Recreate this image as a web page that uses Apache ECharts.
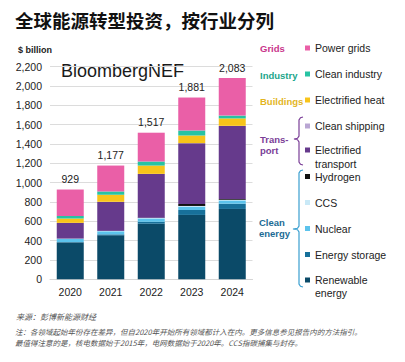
<!DOCTYPE html>
<html><head><meta charset="utf-8">
<script src="https://cdn.jsdelivr.net/npm/echarts@6/dist/echarts.min.js"></script>
<style>html,body{margin:0;padding:0;background:#fff}#c{width:405px;height:362px}</style>
</head><body><div id="c"></div>
<script>
const years = ['2020','2021','2022','2023','2024'];
const renewable = [381, 455, 575, 666, 728];
const storage = [5, 10, 20, 51, 54];
const nuclear = [33, 32, 35, 35, 34];
const ccs = [2, 3, 5, 7, 6];
const hydrogen = [0.5, 1, 3, 20, 8];
const evTransport = [162, 300, 452, 629, 757];
const shipping = [0.5, 1, 1, 1, 1];
const heat = [45, 73, 86, 79, 77];
const industry = [26, 34, 42, 52, 29];
const grids = [274, 268, 298, 341, 389];
const totals = [929, 1177, 1517, 1881, 2083];
const yTicks = [0, 200, 400, 600, 800, 1000, 1200, 1400, 1600, 1800, 2000, 2200];

const F = '"Liberation Sans", Arial, sans-serif';
const CJK = '"Noto Sans CJK SC", sans-serif';

const seriesDefs = [
  ['Renewable energy', renewable, '#0b4a68'],
  ['Energy storage', storage, '#17709a'],
  ['Nuclear', nuclear, '#5cc3ec'],
  ['CCS', ccs, '#c9e9f7'],
  ['Hydrogen', hydrogen, '#111111'],
  ['Electrified transport', evTransport, '#663a8c'],
  ['Clean shipping', shipping, '#b9a6d3'],
  ['Electrified heat', heat, '#f8c41a'],
  ['Clean industry', industry, '#27c3a3'],
  ['Power grids', grids, '#ea5fa7']
];

const series = seriesDefs.map(([name, data, color], i) => ({
  name, type: 'bar', stack: 'all', data, barWidth: 27,
  itemStyle: { color },
  emphasis: { disabled: true },
  label: i === seriesDefs.length - 1 ? {
    show: true, position: 'top', distance: 5,
    formatter: p => totals[p.dataIndex].toLocaleString('en-US'),
    fontFamily: F, fontSize: 10.5, color: '#222'
  } : { show: false }
}));

const legendPos = {
  'Power grids': 48, 'Clean industry': 74, 'Electrified heat': 100,
  'Clean shipping': 126, 'Electrified transport': 150, 'Hydrogen': 176.5,
  'CCS': 202.5, 'Nuclear': 228.5, 'Energy storage': 254.5, 'Renewable energy': 280
};
const legends = Object.keys(legendPos).map(n => ({
  data: [n], left: 305, top: legendPos[n] - 6, padding: 0,
  icon: 'rect', itemWidth: 5, itemHeight: 5, selectedMode: false,
  formatter: s => s === 'Electrified transport' ? 'Electrified' : (s === 'Renewable energy' ? 'Renewable' : s),
  textStyle: { fontFamily: F, fontSize: 10.5, lineHeight: 12, color: '#222' }
}));

function txt(x, y, s, color, size, weight, extra) {
  return Object.assign({ type: 'text', x, y, style: { text: s, fill: color, fontFamily: F, fontSize: size, fontWeight: weight || 'normal', verticalAlign: 'middle' } }, extra || {});
}
function bracket(x, y0, ym, y1, xt, color) {
  return { type: 'polyline', shape: { points: [
    [x + 4, y0], [x + 1.5, y0 + 0.7], [x, y0 + 3], [x, ym - 3], [x - 1.5, ym - 0.7], [xt, ym],
    [x - 1.5, ym + 0.7], [x, ym + 3], [x, y1 - 3], [x + 1.5, y1 - 0.7], [x + 4, y1]
  ] }, style: { stroke: color, lineWidth: 1.2, fill: null } };
}

const chart = echarts.init(document.getElementById('c'), null, { renderer: 'svg' });
chart.setOption({
  animation: false,
  backgroundColor: '#fff',
  grid: { left: 50, right: 152.5, top: 66.7, bottom: 82.7 },
  legend: legends,
  xAxis: {
    type: 'category', data: years,
    axisLine: { show: true, lineStyle: { color: '#d5d5d5' } },
    axisTick: { show: false },
    axisLabel: { fontFamily: F, fontSize: 10.5, color: '#222', margin: 7 }
  },
  yAxis: {
    type: 'value', min: yTicks[0], max: yTicks[yTicks.length - 1], interval: yTicks[1] - yTicks[0],
    axisLine: { show: false }, axisTick: { show: false },
    splitLine: { lineStyle: { color: '#dcdcdc', width: 1 } },
    axisLabel: { fontFamily: F, fontSize: 10.5, color: '#222', margin: 8,
      formatter: v => v.toLocaleString('en-US') }
  },
  series,
  graphic: [
    { type: 'text', x: 15, y: 20, style: { text: '全球能源转型投资，按行业分列', fill: '#111', fontFamily: CJK, fontSize: 18.5, fontWeight: 'bold', verticalAlign: 'middle' } },
    txt(18, 49.5, '$ billion', '#222', 9, 'bold'),
    txt(61, 71, 'BloombergNEF', '#1a1a1a', 18, 'normal'),
    txt(260, 48, 'Grids', '#c9358b', 9.5, 'bold'),
    txt(260, 75, 'Industry', '#1ba58b', 9.5, 'bold'),
    txt(260, 101.5, 'Buildings', '#e3b51f', 9.5, 'bold'),
    txt(260, 139, 'Trans-', '#7a3e97', 9.5, 'bold'),
    txt(260, 150, 'port', '#7a3e97', 9.5, 'bold'),
    txt(259, 222.5, 'Clean', '#1c6b95', 9.5, 'bold'),
    txt(259, 233.5, 'energy', '#1c6b95', 9.5, 'bold'),
    txt(315, 164, 'transport', '#222', 10.5, 'normal'),
    txt(315, 293, 'energy', '#222', 10.5, 'normal'),
    bracket(299, 117, 139, 165, 294, '#7a3e97'),
    bracket(299, 170, 229, 287, 293, '#3a9fd0'),
    { type: 'text', x: 16, y: 316, style: { text: '来源：彭博新能源财经', fill: '#555', fontFamily: CJK, fontSize: 8, fontStyle: 'italic', verticalAlign: 'middle' } },
    { type: 'text', x: 15, y: 331.5, style: { text: '注：各领域起始年份存在差异，但自2020年开始所有领域都计入在内。更多信息参见报告内的方法指引。', fill: '#555', fontFamily: CJK, fontSize: 7.5, fontStyle: 'italic', verticalAlign: 'middle' } },
    { type: 'text', x: 15, y: 342.5, style: { text: '最值得注意的是，核电数据始于2015年，电网数据始于2020年。CCS指碳捕集与封存。', fill: '#555', fontFamily: CJK, fontSize: 7.5, fontStyle: 'italic', verticalAlign: 'middle' } }
  ]
});
</script></body></html>
